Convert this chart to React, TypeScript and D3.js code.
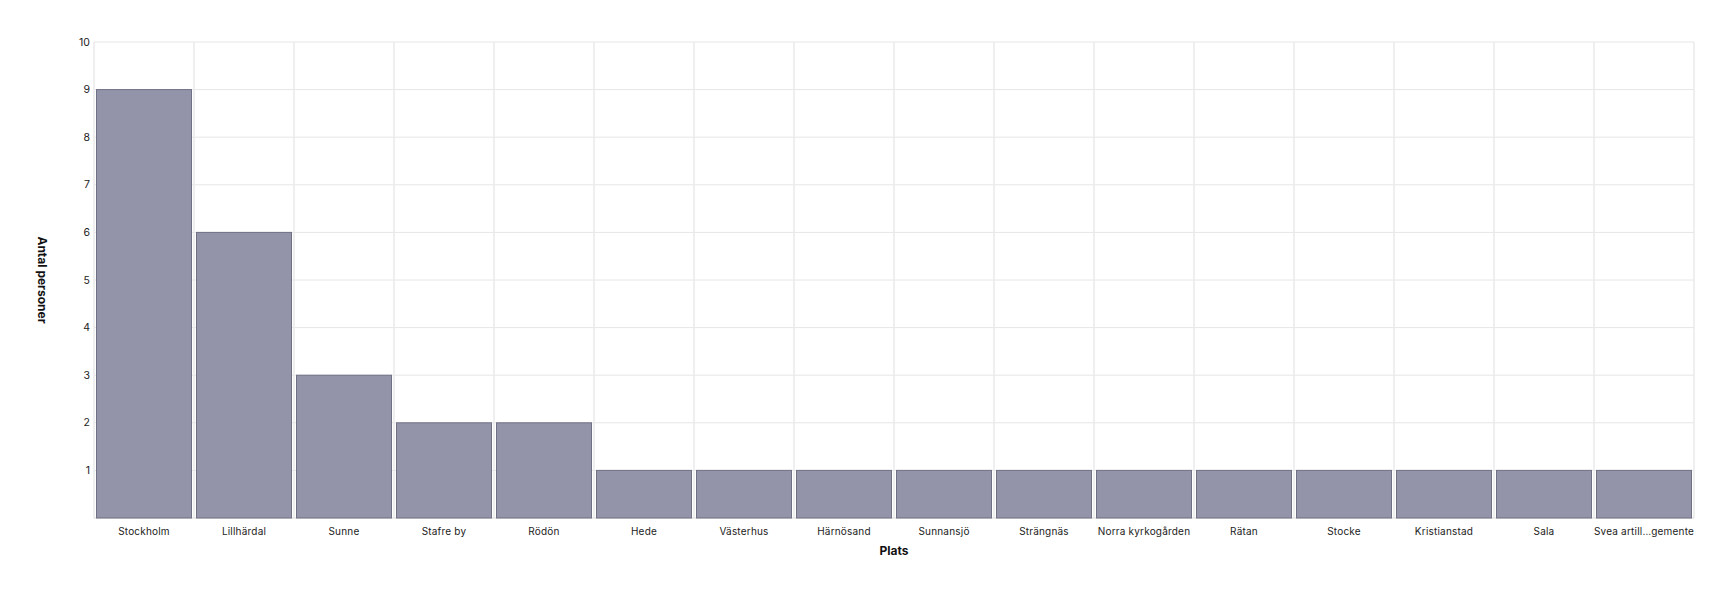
import { useRef, useEffect } from "react";
import * as d3 from "d3";

const places = [
  "Stockholm", "Lillhärdal", "Sunne", "Stafre by", "Rödön", "Hede", "Västerhus",
  "Härnösand", "Sunnansjö", "Strängnäs", "Norra kyrkogården", "Rätan", "Stocke",
  "Kristianstad", "Sala", "Svea artill…gemente",
];
const counts = [9, 6, 3, 2, 2, 1, 1, 1, 1, 1, 1, 1, 1, 1, 1, 1];
const yTicks = [1, 2, 3, 4, 5, 6, 7, 8, 9, 10];

const W = 1734;
const H = 594;
const M = { top: 42, right: 40, bottom: 76, left: 94 };
const IW = W - M.left - M.right;
const IH = H - M.top - M.bottom;
const FONT = "Inter, 'Noto Sans', sans-serif";

export default function App() {
  const svgRef = useRef<SVGSVGElement>(null);

  useEffect(() => {
    document.body.style.margin = "0";
    if (!svgRef.current) return;
    const svg = d3.select(svgRef.current);
    svg.selectAll("*").remove();

    const g = svg.append("g").attr("transform", `translate(${M.left},${M.top})`);

    const x = d3.scaleBand().domain(places).range([0, IW]);
    const y = d3.scaleLinear().domain([0, 10]).range([IH, 0]);

    // grid: horizontal
    g.selectAll(".hgrid")
      .data(yTicks)
      .join("line")
      .attr("x1", 0).attr("x2", IW)
      .attr("y1", d => y(d)).attr("y2", d => y(d))
      .attr("stroke", "#e6e6e6");

    // grid: vertical band boundaries
    const bounds = places.map(p => x(p)!).concat([IW]);
    g.selectAll(".vgrid")
      .data(bounds)
      .join("line")
      .attr("x1", d => d).attr("x2", d => d)
      .attr("y1", 0).attr("y2", IH)
      .attr("stroke", "#eaeaea")
      .attr("stroke-width", 1.5);

    // bottom axis line
    g.append("line")
      .attr("x1", 0).attr("x2", IW)
      .attr("y1", IH).attr("y2", IH)
      .attr("stroke", "#e6e6e6")
      .attr("stroke-width", 1.5);

    // bars
    const pad = 2.5;
    g.selectAll(".bar")
      .data(places)
      .join("rect")
      .attr("x", d => x(d)! + pad)
      .attr("width", x.bandwidth() - pad * 2)
      .attr("y", (_, i) => y(counts[i]))
      .attr("height", (_, i) => IH - y(counts[i]))
      .attr("fill", "#9394a9")
      .attr("stroke", "#707085")
      .attr("stroke-width", 1);

    // y tick labels
    g.selectAll(".ytick")
      .data(yTicks)
      .join("text")
      .attr("x", -4)
      .attr("y", d => y(d))
      .attr("dy", "0.35em")
      .attr("text-anchor", "end")
      .attr("font-family", FONT)
      .attr("font-size", 10.5)
      .attr("fill", "#222")
      .text(d => d);

    // x tick labels
    g.selectAll(".xtick")
      .data(places)
      .join("text")
      .attr("x", d => x(d)! + x.bandwidth() / 2)
      .attr("y", IH + 13)
      .attr("dy", "0.35em")
      .attr("text-anchor", "middle")
      .attr("font-family", FONT)
      .attr("font-size", 10)
      .attr("letter-spacing", 0.2)
      .attr("fill", "#222")
      .text(d => d);

    // axis titles
    g.append("text")
      .attr("x", IW / 2)
      .attr("y", IH + 33)
      .attr("dy", "0.35em")
      .attr("text-anchor", "middle")
      .attr("font-family", FONT)
      .attr("font-size", 12)
      .attr("font-weight", 700)
      .attr("fill", "#111")
      .text("Plats");

    g.append("text")
      .attr("transform", `translate(${42 - M.left},${IH / 2}) rotate(90)`)
      .attr("dy", "0.35em")
      .attr("text-anchor", "middle")
      .attr("font-family", FONT)
      .attr("font-size", 12)
      .attr("font-weight", 700)
      .attr("fill", "#111")
      .text("Antal personer");
  }, []);

  return <svg ref={svgRef} width={W} height={H} style={{ display: "block" }} />;
}
